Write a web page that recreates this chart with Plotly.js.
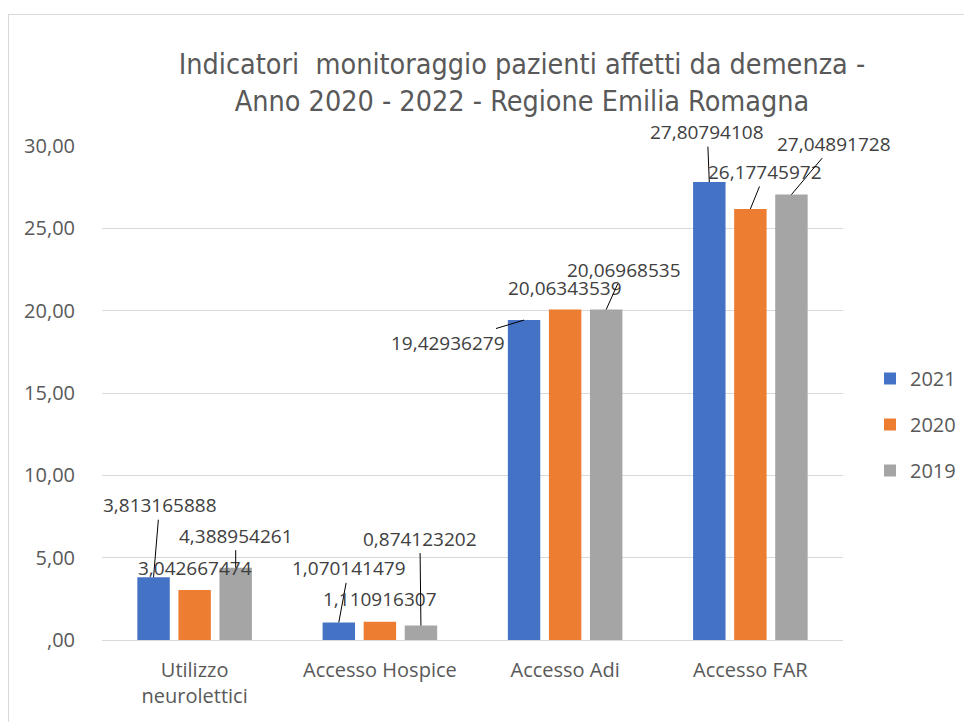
<!DOCTYPE html>
<html>
<head>
<meta charset="utf-8">
<script src="https://cdn.plot.ly/plotly-3.0.1.min.js"></script>
<style>
  html, body { margin: 0; padding: 0; background: #fff; }
  #wrap { position: relative; width: 964px; height: 722px; overflow: hidden; }
  #chart { position: absolute; left: 0; top: 0; width: 964px; height: 722px; }
  #frame { position: absolute; left: 8px; top: 14px; width: 1100px; height: 900px;
           border: 1px solid #d9d9d9; box-sizing: border-box; pointer-events: none; }
</style>
</head>
<body>
<div id="wrap"><div id="chart"></div><div id="frame"></div></div>
<script>
// ---- data ----
const categories = ["Utilizzo<br>neurolettici", "Accesso Hospice", "Accesso Adi", "Accesso FAR"];
const seriesNames = ["2021", "2020", "2019"];
const values2021 = [3.813165888, 1.070141479, 19.42936279, 27.80794108];
const values2020 = [3.042667474, 1.110916307, 20.06343539, 26.17745972];
const values2019 = [4.388954261, 0.874123202, 20.06968535, 27.04891728];
const yTickVals = [0, 5, 10, 15, 20, 25, 30];
const yTickText = [",00", "5,00", "10,00", "15,00", "20,00", "25,00", "30,00"];

// ---- style ----
const colors = ["#4472C4", "#ED7D31", "#A5A5A5"];
const allValues = [values2021, values2020, values2019];
const bargap = 0.335, bargroupgap = 0.21;
// label placement (pixel offsets of label centre from bar top); arrow = leader line
const labelPlacement = [
  [ {ax: 6, ay: -72, arrow: true}, {ax: 10, ay: -54, arrow: true}, {ax: -76, ay: 23, arrow: true}, {ax: -2, ay: -50, arrow: true} ],
  [ {ax: 0, ay: -22, arrow: false}, {ax: 0, ay: -23, arrow: false}, {ax: 0, ay: -22, arrow: false}, {ax: 15, ay: -37, arrow: true} ],
  [ {ax: 0, ay: -32, arrow: true}, {ax: -1, ay: -87, arrow: true}, {ax: 18, ay: -40, arrow: true}, {ax: 43, ay: -51, arrow: true} ]
];

const fontFam = "'Open Sans', 'Noto Sans', sans-serif";

const traces = allValues.map((vals, i) => ({
  type: 'bar',
  name: seriesNames[i],
  x: categories,
  y: vals,
  marker: {color: colors[i]},
  legendgroup: 'g' + i,
  hoverinfo: 'none'
}));

const slot = (1 - bargap) / 3;
const annotations = [];
allValues.forEach((vals, i) => {
  vals.forEach((v, j) => {
    const p = labelPlacement[i][j];
    const txt = String(v).replace('.', ',');
    const a = {
      x: j + (i - 1) * slot, y: v, xref: 'x', yref: 'y',
      text: txt,
      font: {family: fontFam, size: 19, color: '#404040'},
      xanchor: 'center', yanchor: 'middle'
    };
    if (p.arrow) {
      Object.assign(a, {showarrow: true, ax: p.ax, ay: p.ay, arrowhead: 0,
        arrowwidth: 1, arrowcolor: '#000000', standoff: 0, startstandoff: 0});
    } else {
      Object.assign(a, {showarrow: false, xshift: p.ax, yshift: -p.ay});
    }
    annotations.push(a);
  });
});

const layout = {
  width: 964, height: 722,
  margin: {l: 102, r: 121, t: 146, b: 82, autoexpand: false},
  paper_bgcolor: '#ffffff', plot_bgcolor: '#ffffff',
  barmode: 'group', bargap: bargap, bargroupgap: bargroupgap,
  title: {
    text: "Indicatori  monitoraggio pazienti affetti da demenza -<br>Anno 2020 - 2022 - Regione Emilia Romagna",
    font: {family: "'Liberation Sans Narrow', 'DejaVu Sans Condensed', sans-serif", size: 28.5, color: '#595959'},
    x: 522 / 964, xanchor: 'center', xref: 'container',
    y: 1 - 74 / 722, yanchor: 'middle', yref: 'container'
  },
  xaxis: {
    type: 'category',
    range: [-0.5, 3.5], autorange: false,
    tickfont: {family: fontFam, size: 20, color: '#595959'},
    showgrid: false, showline: true, linecolor: '#d9d9d9', linewidth: 1,
    ticks: 'outside', ticklen: 12, tickcolor: 'rgba(0,0,0,0)',
    fixedrange: true
  },
  yaxis: {
    range: [0, 30], autorange: false,
    tickvals: yTickVals, ticktext: yTickText,
    tickfont: {family: fontFam, size: 20, color: '#595959'},
    showgrid: true, gridcolor: '#d9d9d9', gridwidth: 1,
    zeroline: false, showline: false,
    ticks: 'outside', ticklen: 22, tickcolor: 'rgba(0,0,0,0)',
    fixedrange: true
  },
  legend: {
    xref: 'container', yref: 'container',
    x: 870 / 964, y: 1 - 359 / 722, xanchor: 'left', yanchor: 'top',
    font: {family: fontFam, size: 20, color: '#595959'},
    traceorder: 'grouped', tracegroupgap: 17, itemwidth: 30
  },
  annotations: annotations,
  showlegend: true
};

Plotly.newPlot('chart', traces, layout, {displayModeBar: false, staticPlot: true});
</script>
</body>
</html>
